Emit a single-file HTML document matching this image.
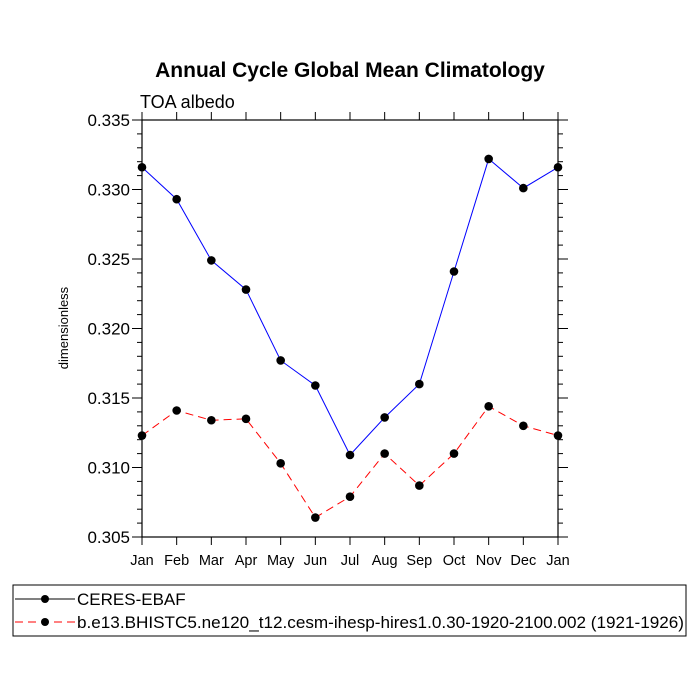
<!DOCTYPE html>
<html><head><meta charset="utf-8"><style>body{margin:0;background:#fff}svg{display:block;font-family:"Liberation Sans",sans-serif}</style></head>
<body>
<svg id="chart" width="700" height="700" xmlns="http://www.w3.org/2000/svg">
<text x="350" y="77" text-anchor="middle" font-size="21" font-weight="bold">Annual Cycle Global Mean Climatology</text>
<text x="140" y="108" font-size="18">TOA albedo</text>
<text transform="translate(68,328) rotate(-90)" text-anchor="middle" font-size="13">dimensionless</text>
<g id="axes"></g><g id="series"></g>
<g>
<rect x="13" y="585" width="673" height="51" fill="none" stroke="#000" stroke-width="1"/>
<line x1="15" y1="599" x2="75" y2="599" stroke="#000"/><circle cx="45" cy="599" r="4"/>
<text x="77" y="605" font-size="17">CERES-EBAF</text>
<line x1="15" y1="622" x2="75" y2="622" stroke="red" stroke-dasharray="8,5"/><circle cx="45" cy="622" r="4"/>
<text x="77" y="628" font-size="17" textLength="607" lengthAdjust="spacingAndGlyphs">b.e13.BHISTC5.ne120_t12.cesm-ihesp-hires1.0.30-1920-2100.002 (1921-1926)</text>
</g>
</svg>
<script>
const months=["Jan","Feb","Mar","Apr","May","Jun","Jul","Aug","Sep","Oct","Nov","Dec","Jan"];
const ceres=[0.3316,0.3293,0.3249,0.3228,0.3177,0.3159,0.3109,0.3136,0.3160,0.3241,0.3322,0.3301,0.3316];
const model=[0.3123,0.3141,0.3134,0.3135,0.3103,0.3064,0.3079,0.3110,0.3087,0.3110,0.3144,0.3130,0.3123];
const yTicks=[0.305,0.310,0.315,0.320,0.325,0.330,0.335];
const yMin=0.305,yMax=0.335;
const L=142,R=558,T=120,B=537;
const NS="http://www.w3.org/2000/svg";
const xs=i=>L+(R-L)*i/(months.length-1);
const ys=v=>B-(B-T)*(v-yMin)/(yMax-yMin);
function mk(t,a,p){const e=document.createElementNS(NS,t);for(const k in a)e.setAttribute(k,a[k]);p.appendChild(e);return e;}
const ax=document.getElementById('axes');
const fr=mk('rect',{x:L,y:T,width:R-L,height:B-T,fill:'none',stroke:'#000','stroke-width':1.2},ax);


months.forEach((m,i)=>{const x=xs(i);
mk('line',{x1:x,y1:B,x2:x,y2:B+8,stroke:'#000'},ax);
mk('line',{x1:x,y1:T,x2:x,y2:T-8,stroke:'#000'},ax);
const t=mk('text',{x:x,y:B+28,'text-anchor':'middle','font-size':14.5},ax);t.textContent=m;

});
for(let v=yMin;v<=yMax+1e-9;v+=0.001){const y=ys(v);const major=Math.abs(Math.round(v*1000)%5)===0;const len=major?10:5;
mk('line',{x1:L-len,y1:y,x2:L,y2:y,stroke:'#000'},ax);
mk('line',{x1:R,y1:y,x2:R+len,y2:y,stroke:'#000'},ax);}
yTicks.forEach(v=>{const t=mk('text',{x:L-12,y:ys(v)+6,'text-anchor':'end','font-size':17},ax);t.textContent=v.toFixed(3);

});
const sg=document.getElementById('series');
function draw(vals,color,dash,name){
const pl=mk('polyline',{points:vals.map((v,i)=>xs(i)+','+ys(v)).join(' '),fill:'none',stroke:color,'stroke-width':1,'stroke-dasharray':dash},sg);


vals.forEach((v,i)=>{const c=mk('circle',{cx:xs(i),cy:ys(v),r:4.3,fill:'#000'},sg);

});}
draw(ceres,'blue','none','ceres');
draw(model,'red','8,5','model');
</script>
</body></html>
